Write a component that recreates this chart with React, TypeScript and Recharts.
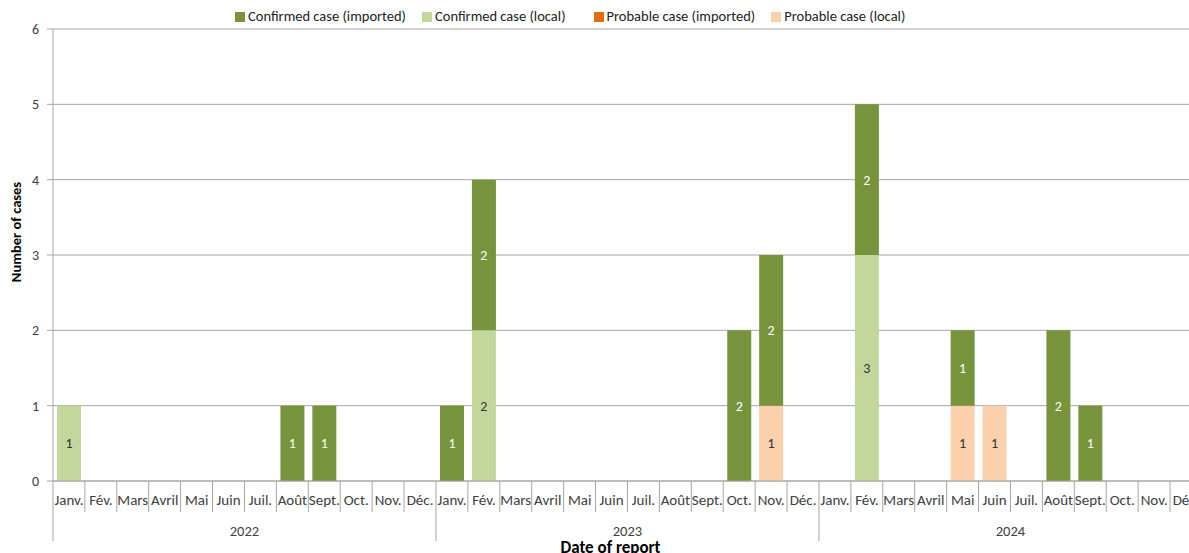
import { Bar, BarChart, CartesianGrid, Label, LabelList, XAxis, YAxis } from 'recharts';

const years = ['2022', '2023', '2024'];
const months = ['Janv.', 'Fév.', 'Mars', 'Avril', 'Mai', 'Juin', 'Juil.', 'Août', 'Sept.', 'Oct.', 'Nov.', 'Déc.'];

// one entry per month, Janv. 2022 .. Déc. 2024 (null = no case)
const confirmedImported = [
  null, null, null, null, null, null, null, 1, 1, null, null, null,
  1, 2, null, null, null, null, null, null, null, 2, 2, null,
  null, 2, null, null, 1, null, null, 2, 1, null, null, null,
];
const confirmedLocal = [
  1, null, null, null, null, null, null, null, null, null, null, null,
  null, 2, null, null, null, null, null, null, null, null, null, null,
  null, 3, null, null, null, null, null, null, null, null, null, null,
];
const probableImported = [
  null, null, null, null, null, null, null, null, null, null, null, null,
  null, null, null, null, null, null, null, null, null, null, null, null,
  null, null, null, null, null, null, null, null, null, null, null, null,
];
const probableLocal = [
  null, null, null, null, null, null, null, null, null, null, null, null,
  null, null, null, null, null, null, null, null, null, null, 1, null,
  null, null, null, null, 1, 1, null, null, null, null, null, null,
];
const yTicks = [0, 1, 2, 3, 4, 5, 6];

const DARK_GREEN = '#77933c';
const LIGHT_GREEN = '#c3d69b';
const ORANGE = '#e46c0a';
const PEACH = '#fbd0ac';
const AXIS = '#a6a6a6';
const FONT = 'Calibri, Carlito, "Open Sans", "Liberation Sans", sans-serif';

const data = confirmedImported.map((_, i) => ({
  key: i,
  month: months[i % 12],
  year: years[Math.floor(i / 12)],
  confirmedImported: confirmedImported[i],
  confirmedLocal: confirmedLocal[i],
  probableImported: probableImported[i],
  probableLocal: probableLocal[i],
}));

const legendItems = [
  { label: 'Confirmed case (imported)', color: DARK_GREEN, gap: 16 },
  { label: 'Confirmed case (local)', color: LIGHT_GREEN, gap: 28 },
  { label: 'Probable case (imported)', color: ORANGE, gap: 16 },
  { label: 'Probable case (local)', color: PEACH, gap: 0 },
];

const STEP = 32;

const MonthTick = (props: any) => {
  const { x, y, index } = props;
  const month = months[index % 12];
  const left = x - STEP / 2;
  const yearStart = index % 12 === 0;
  return (
    <g>
      <line x1={left} x2={left} y1={y} y2={yearStart ? y + 60 : y + 31} stroke={AXIS} />
      <text x={x} y={y + 24} textAnchor="middle" fontSize={15} fill="#404040" fontFamily={FONT}>
        {month}
      </text>
      {index % 12 === 6 && (
        <text x={left} y={y + 55} textAnchor="middle" fontSize={14.5} fill="#404040" fontFamily={FONT}>
          {years[Math.floor(index / 12)]}
        </text>
      )}
    </g>
  );
};

const fmt = (v: any) => (v ? v : '');

const LegendBox = () => (
  <div
    style={{
      position: 'absolute',
      left: 235,
      top: 8,
      display: 'flex',
      fontFamily: FONT,
      fontSize: 14.5,
      color: '#222',
      whiteSpace: 'nowrap',
      lineHeight: '17px',
    }}
  >
    {legendItems.map((it) => (
      <span key={it.label} style={{ display: 'flex', alignItems: 'center', marginRight: it.gap }}>
        <span style={{ width: 10, height: 10, background: it.color, display: 'inline-block', marginRight: 3 }} />
        {it.label}
      </span>
    ))}
  </div>
);

export default function App() {
  return (
    <div style={{ position: 'fixed', left: 0, top: 0, width: 1189, height: 553, overflow: 'hidden', background: '#fff' }}>
      <BarChart
        width={1212}
        height={553}
        data={data}
        margin={{ top: 29, right: 10, bottom: 0, left: 0 }}
        barSize={24}
      >
        <CartesianGrid vertical={false} stroke={AXIS} />
        <YAxis
          width={53}
          domain={[0, 6]}
          ticks={yTicks}
          interval={0}
          stroke={AXIS}
          tickSize={6}
          tickMargin={8}
          tick={{ fill: '#404040', fontSize: 14, fontFamily: FONT }}
        >
          <Label
            content={({ viewBox }: any) => (
              <text
                transform={`translate(21, ${viewBox.y + viewBox.height / 2 - 23}) rotate(-90)`}
                textAnchor="middle"
                fontSize={14.5}
                fontWeight="bold"
                fill="#000"
                fontFamily={FONT}
              >
                Number of cases
              </text>
            )}
          />
        </YAxis>
        <XAxis
          dataKey="key"
          interval={0}
          height={72}
          stroke={AXIS}
          tickLine={false}
          tickSize={0}
          tickMargin={0}
          tick={<MonthTick />}
        >
          <Label
            content={({ viewBox }: any) => (
              <text
                x={viewBox.x + viewBox.width / 2 - 17}
                y={viewBox.y + 72}
                textAnchor="middle"
                fontSize={17}
                fontWeight="bold"
                fill="#000"
                fontFamily={FONT}
              >
                Date of report
              </text>
            )}
          />
        </XAxis>
        <Bar dataKey="confirmedLocal" stackId="a" fill={LIGHT_GREEN} isAnimationActive={false}>
          <LabelList dataKey="confirmedLocal" position="center" formatter={fmt} fill="#333" fontSize={14} fontFamily={FONT} />
        </Bar>
        <Bar dataKey="probableLocal" stackId="a" fill={PEACH} isAnimationActive={false}>
          <LabelList dataKey="probableLocal" position="center" formatter={fmt} fill="#333" fontSize={14} fontFamily={FONT} />
        </Bar>
        <Bar dataKey="probableImported" stackId="a" fill={ORANGE} isAnimationActive={false}>
          <LabelList dataKey="probableImported" position="center" formatter={fmt} fill="#fff" fontSize={14} fontFamily={FONT} />
        </Bar>
        <Bar dataKey="confirmedImported" stackId="a" fill={DARK_GREEN} isAnimationActive={false}>
          <LabelList dataKey="confirmedImported" position="center" formatter={fmt} fill="#fff" fontSize={14} fontFamily={FONT} />
        </Bar>
      </BarChart>
      <LegendBox />
    </div>
  );
}
